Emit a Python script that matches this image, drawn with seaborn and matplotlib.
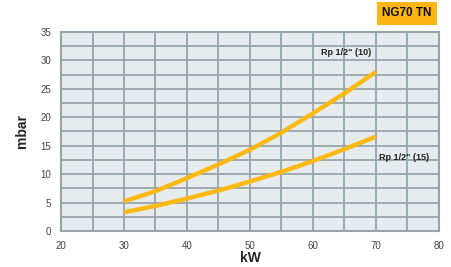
import matplotlib.pyplot as plt
import numpy as np
import pandas as pd
import seaborn as sns

# values
kw = [30, 35, 40, 45, 50, 55, 60, 65, 70]
rp_10 = [5.2, 7.0, 9.3, 11.7, 14.3, 17.3, 20.7, 24.2, 28.0]  # Rp 1/2" (10)
rp_15 = [3.3, 4.4, 5.7, 7.1, 8.7, 10.4, 12.3, 14.4, 16.6]    # Rp 1/2" (15)
series_names = ['Rp 1/2" (10)', 'Rp 1/2" (15)']

df = pd.DataFrame({
    'kW': kw + kw,
    'mbar': rp_10 + rp_15,
    'series': [series_names[0]] * len(kw) + [series_names[1]] * len(kw),
})

sns.set_theme(style='white')
plt.rcParams['font.family'] = ['Liberation Sans', 'DejaVu Sans']

grid_col = '#97a4aa'
line_col = '#fdb913'

fig = plt.figure(figsize=(4.52, 2.67), dpi=100)
ax = fig.add_axes([0.135, 0.135, 0.836, 0.745])
ax.set_facecolor('#e6ecee')

sns.lineplot(data=df, x='kW', y='mbar', hue='series', palette=[line_col, line_col],
             linewidth=3.2, legend=False, ax=ax, solid_capstyle='butt')

ax.set_xlim(20, 80)
ax.set_ylim(0, 35)
ax.set_xticks(np.arange(20, 81, 10))
ax.set_xticks(np.arange(20, 81, 5), minor=True)
ax.set_yticks(np.arange(0, 36, 5))
ax.set_yticks(np.arange(0, 36, 2.5), minor=True)
ax.grid(True, which='both', color=grid_col, linewidth=1.3)
ax.set_axisbelow(True)

for s in ax.spines.values():
    s.set_color(grid_col)
    s.set_linewidth(1.5)

ax.tick_params(axis='both', which='major', direction='out', length=3, width=0.8,
               color=grid_col, labelsize=7, labelcolor='#444444', pad=4)
ax.tick_params(axis='both', which='minor', length=0)

ax.set_xlabel('kW', fontsize=10, fontweight='heavy', labelpad=0)
ax.set_ylabel('mbar', fontsize=10, fontweight='heavy', labelpad=8)

ax.text(61.3, 31.4, series_names[0], fontsize=6.5, fontweight='bold', color='#222222',
        ha='left', va='center')
ax.text(70.5, 13.0, series_names[1], fontsize=6.5, fontweight='bold', color='#222222',
        ha='left', va='center')

fig.text(0.9, 0.95, 'NG70 TN', fontsize=8.5, fontweight='bold', color='#111111',
         ha='center', va='center',
         bbox=dict(boxstyle='square,pad=0.45', facecolor='#fbb514', edgecolor='none'))

fig.savefig('out.png', dpi=100)
